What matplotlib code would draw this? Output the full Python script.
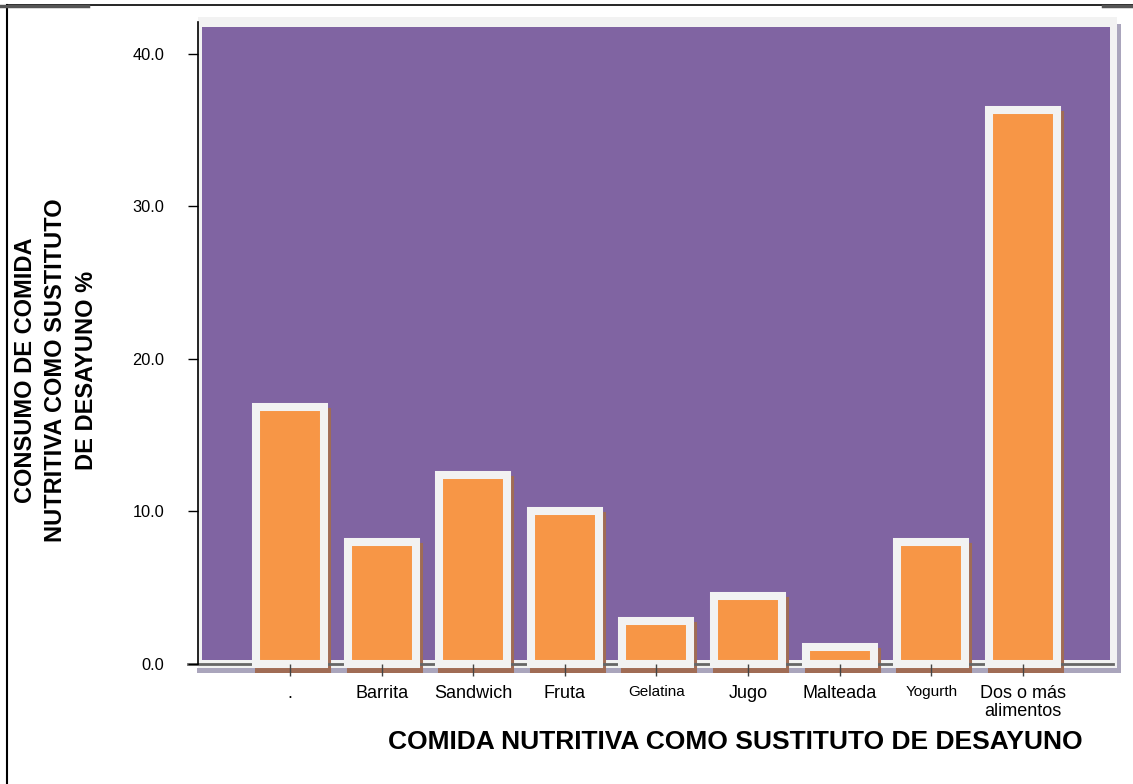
import matplotlib
matplotlib.use("Agg")
import matplotlib.pyplot as plt
from matplotlib.patches import Rectangle
from matplotlib.lines import Line2D
from matplotlib.transforms import ScaledTranslation

plt.rcParams['font.family'] = ['Liberation Sans', 'DejaVu Sans']

categories = ['.', 'Barrita', 'Sandwich', 'Fruta', 'Gelatina', 'Jugo',
              'Malteada', 'Yogurth', 'Dos o más\nalimentos']
percent = [16.8, 8.0, 12.4, 10.0, 2.8, 4.4, 1.1, 8.0, 36.3]
small_labels = ['Gelatina', 'Yogurth']
y_ticks = [0, 10, 20, 30, 40]

W, H = 1133, 784
fig = plt.figure(figsize=(W / 100, H / 100), dpi=100)
fig.patch.set_facecolor('white')


def fig_rect(x0, y0, x1, y1, **kw):
    # rectangle given in pixel coordinates (origin top-left)
    return Rectangle((x0 / W, 1 - y1 / H), (x1 - x0) / W, (y1 - y0) / H,
                     transform=fig.transFigure, **kw)


def fig_line(xs, ys, **kw):
    return Line2D([x / W for x in xs], [1 - y / H for y in ys],
                  transform=fig.transFigure, **kw)


# outer border
fig.add_artist(fig_line([7, 7], [5, 784], color='black', lw=1.5))
fig.add_artist(fig_line([7, 1133], [5, 5], color='black', lw=1.2))
fig.add_artist(fig_line([0, 88], [5.5, 5.5], color='#555555', lw=2.5))
fig.add_artist(fig_line([1103, 1133], [5.5, 5.5], color='#555555', lw=2.5))

ax = fig.add_axes([198 / W, (H - 673) / H, 923 / W, 656 / H])
ax.set_facecolor('none')

# plot area: shadow, light frame, purple fill
ax.add_patch(fig_rect(1117, 24, 1121, 673, facecolor='#aaa5bc', lw=0, zorder=0.3, clip_on=False))
ax.add_patch(fig_rect(197, 668, 1121, 673, facecolor='#aaa5bc', lw=0, zorder=0.3, clip_on=False))
ax.add_patch(fig_rect(198, 17, 1117, 668, facecolor='#f2f2f2', lw=0, zorder=0.4, clip_on=False))
ax.add_patch(fig_rect(202, 27, 1110, 660, facecolor='#8064a2', lw=0, zorder=0.5, clip_on=False))

x = list(range(len(categories)))
bar_w = 0.742

# bar shadows, shifted right and down
shadow = ax.transData + ScaledTranslation(3 / 100, -5 / 100, fig.dpi_scale_trans)
ax.bar(x, percent, width=bar_w, color='#a06c55', edgecolor='#a06c55',
       linewidth=5.8, joinstyle='miter', transform=shadow, zorder=1.5)
ax.bar(x, percent, width=bar_w, color='#f79646', edgecolor='#f2f2f2',
       linewidth=5.8, joinstyle='miter', zorder=2)

# baseline at zero
ax.axhline(0, xmin=-10 / 923, xmax=915 / 923, color='#666666', lw=2,
           zorder=1.8, clip_on=False)

ax.set_xlim(-1.004, 9.07)
ax.set_ylim(-0.62, 42.42)

for side in ['top', 'right', 'bottom']:
    ax.spines[side].set_visible(False)
ax.spines['bottom'].set_position(('data', 0))
ax.spines['left'].set_bounds(0, 42.1)
ax.spines['left'].set_linewidth(1.2)
ax.spines['left'].set_zorder(3)

ax.set_yticks(y_ticks)
ax.set_yticklabels([f'{v:.1f}' for v in y_ticks])
ax.tick_params(axis='y', length=7.2, width=1, color='black', pad=17,
               labelsize=11.8, labelcolor='black')

ax.set_xticks(x)
ax.set_xticklabels(categories, linespacing=1.05)
ax.tick_params(axis='x', length=8.6, width=1, color='#444444', pad=7,
               labelsize=13, labelcolor='black')
for lbl in ax.get_xticklabels():
    if lbl.get_text() in small_labels:
        lbl.set_fontsize(11)
ax.set_axisbelow(False)

fig.text(735 / W, 1 - 742 / H, 'COMIDA NUTRITIVA COMO SUSTITUTO DE DESAYUNO',
         ha='center', va='center', fontsize=19, fontweight='bold')
fig.text(56 / W, 1 - 370 / H,
         'CONSUMO DE COMIDA\nNUTRITIVA COMO SUSTITUTO\nDE DESAYUNO %',
         rotation=90, ha='center', va='center', multialignment='center',
         linespacing=1.41, fontsize=17, fontweight='bold')

fig.savefig('out.png', dpi=100)
